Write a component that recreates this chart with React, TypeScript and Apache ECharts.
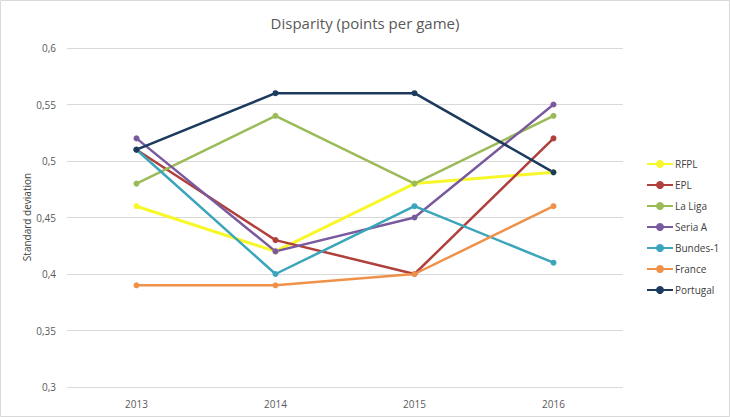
import React, { useEffect, useRef } from "react";
import * as echarts from "echarts";

const categories = ["2013", "2014", "2015", "2016"];
const seriesNames = ["RFPL", "EPL", "La Liga", "Seria A", "Bundes-1", "France", "Portugal"];
const rfpl = [0.46, 0.42, 0.48, 0.49];
const epl = [0.51, 0.43, 0.4, 0.52];
const laLiga = [0.48, 0.54, 0.48, 0.54];
const seriaA = [0.52, 0.42, 0.45, 0.55];
const bundes = [0.51, 0.4, 0.46, 0.41];
const france = [0.39, 0.39, 0.4, 0.46];
const portugal = [0.51, 0.56, 0.56, 0.49];
const colors = ["#F7F72A", "#B0403C", "#9BBB59", "#7A5A9E", "#3AA5BB", "#F0914A", "#1B3A5E"];
const yAxisTitle = "Standard deviation";

export default function App() {
  const ref = useRef<HTMLDivElement>(null);
  useEffect(() => {
    if (!ref.current) return;
    const chart = echarts.init(ref.current, null, { renderer: "svg" });
    const data = [rfpl, epl, laLiga, seriaA, bundes, france, portugal];
    chart.setOption({
      animation: false,
      backgroundColor: "#ffffff",
      title: {
        text: "Disparity (points per game)",
        left: "center",
        top: 10,
        textStyle: { fontFamily: "Open Sans", fontSize: 15, fontWeight: "normal", color: "#595959" },
      },
      legend: {
        orient: "vertical",
        left: 641,
        top: 154,
        itemWidth: 26,
        itemHeight: 10,
        itemGap: 11,
        data: seriesNames,
        textStyle: { fontFamily: "Open Sans", fontSize: 10, color: "#404040", padding: [0, 0, 0, -3] },
      },
      grid: { left: 67, right: 107, top: 48, bottom: 30, containLabel: false },
      xAxis: {
        type: "category",
        data: categories,
        boundaryGap: true,
        axisLine: { show: false },
        axisTick: { show: false },
        axisLabel: { fontFamily: "Open Sans", fontSize: 10, color: "#595959", margin: 12 },
      },
      yAxis: {
        type: "value",
        min: 0.3,
        max: 0.6,
        interval: 0.05,
        axisLine: { show: false },
        axisTick: { show: false },
        splitLine: { lineStyle: { color: "#D9D9D9", width: 1 } },
        axisLabel: {
          fontFamily: "Open Sans",
          fontSize: 10,
          color: "#595959",
          margin: 11,
          formatter: (v: number) => String(Math.round(v * 100) / 100).replace(".", ","),
        },
      },
      series: seriesNames.map((name, i) => ({
        name,
        type: "line",
        data: data[i],
        symbol: "circle",
        symbolSize: 6,
        color: colors[i],
        lineStyle: { width: i === 0 ? 3 : 2.5, color: colors[i] },
        itemStyle: { color: colors[i] },
      })),
      graphic: [
        {
          type: "rect",
          shape: { x: 0.5, y: 0.5, width: 729, height: 416 },
          style: { fill: "none", stroke: "#D9D9D9", lineWidth: 1 },
          silent: true,
        },
        {
          type: "text",
          x: 27,
          y: 217,
          rotation: Math.PI / 2,
          style: {
            text: yAxisTitle,
            fontFamily: "Open Sans",
            fontSize: 10,
            fill: "#404040",
            align: "center",
            verticalAlign: "middle",
          },
          silent: true,
        },
      ],
    });
    return () => chart.dispose();
  }, []);
  return (
    <div style={{ position: "absolute", left: 0, top: 0 }}>
      <div ref={ref} style={{ width: 730, height: 417 }} />
    </div>
  );
}
